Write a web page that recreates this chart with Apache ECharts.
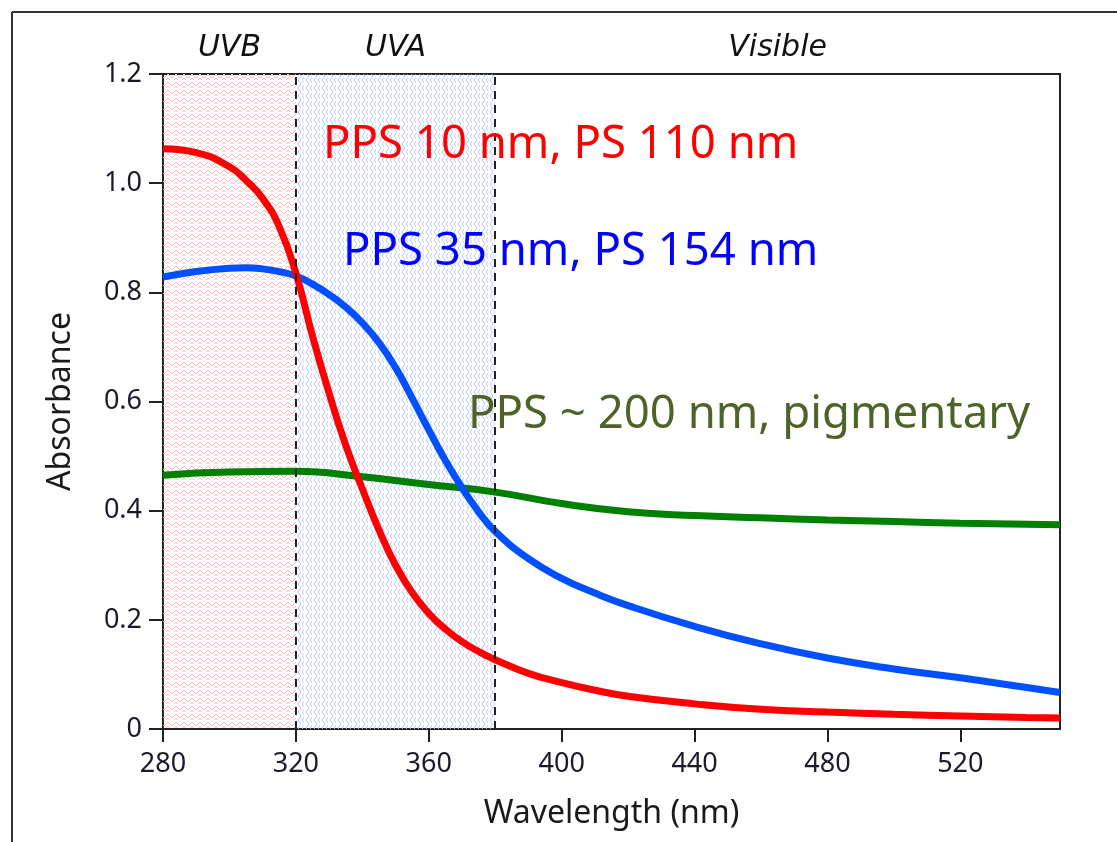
<!DOCTYPE html>
<html>
<head>
<meta charset="utf-8">
<script src="https://cdn.jsdelivr.net/npm/echarts@6/dist/echarts.min.js"></script>
<style>
  html, body { margin: 0; padding: 0; background: #fff; }
  #chart { width: 1117px; height: 842px; }
</style>
</head>
<body>
<div id="chart"></div>
<script>
// wavelengths (nm) and absorbance
var wlSmall = [280, 290, 300, 305, 310, 315, 320, 325, 330, 335, 340, 345, 350, 355, 360, 365, 370, 375, 380, 390, 400, 410, 420, 440, 460, 480, 500, 520, 540, 550]
var pps10 = [1.063, 1.056, 1.03, 1.005, 0.972, 0.92, 0.835, 0.72, 0.615, 0.52, 0.44, 0.365, 0.3, 0.25, 0.212, 0.183, 0.16, 0.142, 0.127, 0.102, 0.085, 0.071, 0.06, 0.046, 0.036, 0.031, 0.027, 0.024, 0.021, 0.02]
var pps35 = [0.828, 0.838, 0.844, 0.845, 0.843, 0.838, 0.83, 0.815, 0.796, 0.773, 0.744, 0.708, 0.662, 0.606, 0.548, 0.492, 0.442, 0.398, 0.362, 0.312, 0.276, 0.249, 0.226, 0.188, 0.156, 0.13, 0.11, 0.094, 0.076, 0.067]
var wlPig = [280, 300, 320, 340, 360, 380, 400, 420, 440, 460, 480, 500, 520, 540, 550]
var pps200 = [0.465, 0.471, 0.472, 0.462, 0.448, 0.434, 0.413, 0.398, 0.391, 0.387, 0.383, 0.38, 0.377, 0.375, 0.374]

var xTicks = [280, 320, 360, 400, 440, 480, 520]
var yTicks = [0, 0.2, 0.4, 0.6, 0.8, 1.0, 1.2]
var regions = [['UVB', 280, 320], ['UVA', 320, 380], ['Visible', 380, 550]]
var dashAt = [320, 380]

// small repeating hatch for the UV bands
function hatch(color, vertical) {
  var c = document.createElement('canvas')
  c.width = 8
  c.height = 8
  var ctx = c.getContext('2d')
  ctx.strokeStyle = color
  ctx.lineWidth = 1
  ctx.beginPath()
  if (vertical) {
    ctx.moveTo(2, 0); ctx.lineTo(5, 4); ctx.lineTo(2, 8)
    ctx.moveTo(6, 0); ctx.lineTo(9, 4); ctx.lineTo(6, 8)
  } else {
    ctx.moveTo(0, 2); ctx.lineTo(4, 6); ctx.lineTo(8, 2)
    ctx.moveTo(0, 6); ctx.lineTo(2, 8)
    ctx.moveTo(6, 8); ctx.lineTo(8, 6)
  }
  ctx.stroke()
  return c
}

function pairs(xs, ys) {
  return xs.map(function (x, i) { return [x, ys[i]] })
}

var fills = [
  { image: hatch('#ffb4b4', false), repeat: 'repeat' },
  { image: hatch('#b4c6ff', true), repeat: 'repeat' },
  'rgba(0,0,0,0)'
]

var chart = echarts.init(document.getElementById('chart'))
var textFont = 'Noto Sans'
var bandLabel = {
  show: true, position: 'top', distance: 11,
  fontFamily: 'DejaVu Sans', fontStyle: 'italic', fontSize: 30, color: '#111'
}

chart.setOption({
  animation: false,
  backgroundColor: '#fff',
  grid: {
    left: 163, top: 74, right: 57, bottom: 113,
    show: true, borderColor: '#222', borderWidth: 2, backgroundColor: 'transparent'
  },
  xAxis: {
    type: 'value', min: 280, max: 550, interval: 40,
    name: 'Wavelength (nm)', nameLocation: 'middle', nameGap: 69,
    nameTextStyle: { fontFamily: textFont, fontSize: 32, color: '#1a1a1a' },
    axisLine: { show: true, lineStyle: { color: '#222', width: 2 } },
    axisTick: { show: true, inside: false, length: 13, customValues: xTicks, lineStyle: { color: '#222', width: 2 } },
    axisLabel: { customValues: xTicks, margin: 22, fontFamily: textFont, fontSize: 27, color: '#1a1a2a' },
    splitLine: { show: false }
  },
  yAxis: {
    type: 'value', min: 0, max: 1.2, interval: 0.2,
    name: 'Absorbance', nameLocation: 'middle', nameGap: 86,
    nameTextStyle: { fontFamily: textFont, fontSize: 32, color: '#1a1a1a' },
    axisLine: { show: true, lineStyle: { color: '#222', width: 2 } },
    axisTick: { show: true, inside: false, length: 14, customValues: yTicks, lineStyle: { color: '#222', width: 2 } },
    axisLabel: {
      customValues: yTicks, margin: 21, fontFamily: textFont, fontSize: 27, color: '#1a1a2a',
      formatter: function (v) { return v === 0 ? '0' : v.toFixed(1) }
    },
    splitLine: { show: false }
  },
  series: [{
    name: 'PPS 10 nm, PS 110 nm',
    type: 'line',
    smooth: true,
    showSymbol: false,
    z: 3,
    lineStyle: { color: '#ff0000', width: 7 },
    data: pairs(wlSmall, pps10),
    markArea: {
      silent: true,
      label: bandLabel,
      data: regions.map(function (r, i) {
        return [{
          name: r[0], xAxis: r[1],
          itemStyle: { color: fills[i] },
          label: bandLabel
        }, { xAxis: r[2] }]
      })
    },
    markLine: {
      silent: true,
      symbol: 'none',
      label: { show: false },
      lineStyle: { color: '#222', type: [8, 6], width: 2 },
      data: dashAt.map(function (x) { return { xAxis: x } })
    }
  }, {
    name: 'PPS 35 nm, PS 154 nm',
    type: 'line',
    smooth: true,
    showSymbol: false,
    z: 2,
    lineStyle: { color: '#0050ff', width: 7 },
    data: pairs(wlSmall, pps35)
  }, {
    name: 'PPS ~ 200 nm, pigmentary',
    type: 'line',
    smooth: true,
    showSymbol: false,
    z: 1,
    lineStyle: { color: '#008000', width: 7 },
    data: pairs(wlPig, pps200)
  }],
  graphic: [
    { type: 'line', shape: { x1: 12, y1: 12, x2: 1117, y2: 12 }, style: { stroke: '#333', lineWidth: 2 } },
    { type: 'line', shape: { x1: 12, y1: 12, x2: 12, y2: 842 }, style: { stroke: '#333', lineWidth: 2 } },
    { type: 'text', z: 100, left: 323, top: 122, style: { text: 'PPS 10 nm, PS 110 nm', fill: '#ff0000', font: '45.5px "Noto Sans"' } },
    { type: 'text', z: 100, left: 343, top: 229, style: { text: 'PPS 35 nm, PS 154 nm', fill: '#0000ff', font: '45.5px "Noto Sans"' } },
    { type: 'text', z: 100, left: 468, top: 392, style: { text: 'PPS ~ 200 nm, pigmentary', fill: '#4f6228', font: '45.5px "Noto Sans"' } }
  ]
})
</script>
</body>
</html>
